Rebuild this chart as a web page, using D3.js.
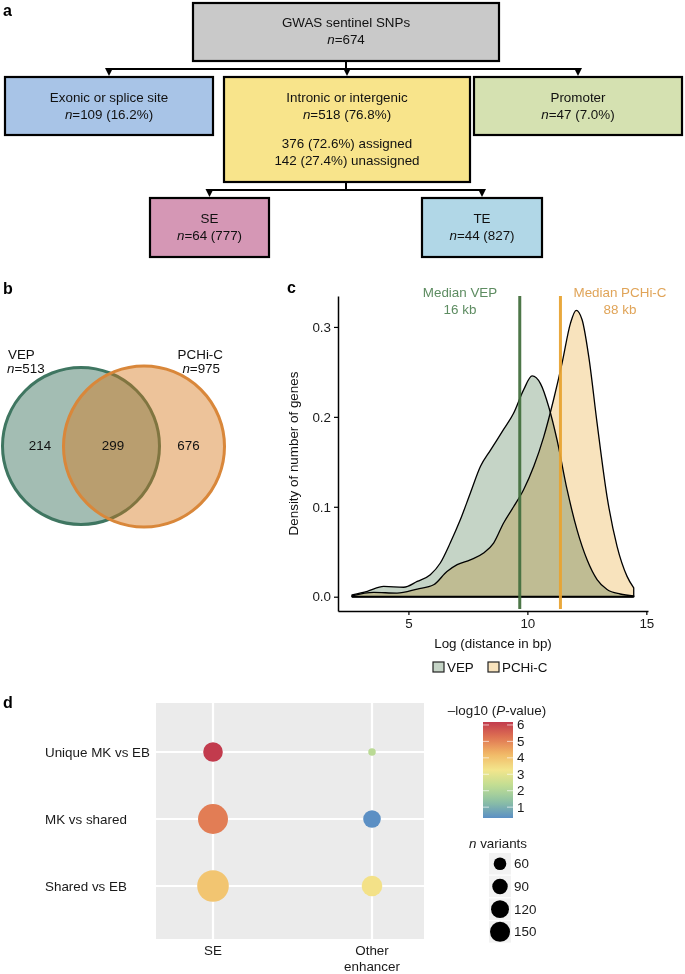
<!DOCTYPE html>
<html><head><meta charset="utf-8">
<script src="https://cdn.jsdelivr.net/npm/d3@7"></script>
<style>
body{margin:0;background:#fff;}
svg{display:block;font-family:"Liberation Sans",Arial,Helvetica,sans-serif;}
</style></head><body>
<svg id="fig" width="685" height="974"></svg>
<script>
// ================= DATA =================
// panel a : flow chart
const topLabel = "GWAS sentinel SNPs";
const topN = 674;
const level1Labels = ["Exonic or splice site", "Intronic or intergenic", "Promoter"];
const level1N = [109, 518, 47];
const level1Pct = ["16.2%", "76.8%", "7.0%"];
const assignedLines = ["376 (72.6%) assigned", "142 (27.4%) unassigned"];
const level2Labels = ["SE", "TE"];
const level2N = [64, 44];
const level2Genes = [777, 827];

// panel b : Venn
const vennSets = ["VEP", "PCHi-C"];
const vennTotals = [513, 975];
const vennRegions = [214, 299, 676];

// panel c : density of log distance
const vepX = [2.63, 3.27, 3.96, 4.8, 5.37, 5.92, 6.34, 6.76, 7.18, 7.6, 8.03, 8.45, 9.0, 9.42, 9.84, 10.2, 10.55, 10.9, 11.25, 11.67, 12.09, 12.51, 12.93, 13.35, 13.9, 14.47];
const vepY = [0.002, 0.006, 0.0115, 0.0105, 0.017, 0.0245, 0.0375, 0.06, 0.0855, 0.115, 0.145, 0.163, 0.186, 0.204, 0.23, 0.2455, 0.237, 0.211, 0.174, 0.119, 0.074, 0.041, 0.019, 0.008, 0.003, 0.001];
const pchicX = [2.63, 3.54, 4.52, 5.37, 6.06, 6.62, 7.05, 7.6, 8.16, 8.58, 9.0, 9.42, 9.84, 10.27, 10.69, 11.1, 11.46, 11.81, 12.05, 12.3, 12.58, 12.93, 13.35, 13.77, 14.19, 14.47];
const pchicY = [0.001, 0.0048, 0.004, 0.0085, 0.0133, 0.028, 0.0356, 0.041, 0.0485, 0.0596, 0.082, 0.100, 0.119, 0.145, 0.178, 0.219, 0.26, 0.304, 0.3185, 0.308, 0.267, 0.193, 0.111, 0.056, 0.0226, 0.0097];
const medianLabels = ["Median VEP", "Median PCHi-C"];
const medianKb = ["16 kb", "88 kb"];
const medianLog = [9.68, 11.39];
const xTicksC = [5, 10, 15];
const yTicksC = [0, 0.1, 0.2, 0.3];

// panel d : enrichment dot plot
const comparisons = ["Unique MK vs EB", "MK vs shared", "Shared vs EB"];
const enhancerTypes = ["SE", "Other enhancer"];
const nVariantsSE = [144, 337, 374];
const nVariantsOther = [21, 116, 159];
const logPSE = [6.18, 5.1, 3.95];
const logPOther = [2.2, 0.34, 3.35];
const colorTicks = [1, 2, 3, 4, 5, 6];
const sizeBreaks = [60, 90, 120, 150];
const paletteStops = ["#5b8fc4", "#8cc0a5", "#bfdd93", "#f3e58c", "#f1b866", "#e07653", "#c23b4d"];

// ================= DRAW =================
const svg = d3.select("#fig");
const FS = 13.4;

function richText(g, x, y, segs, anchor, opts = {}) {
  const t = g.append("text").attr("x", x).attr("y", y)
    .attr("text-anchor", anchor || "middle")
    .attr("font-size", opts.size || FS)
    .attr("fill", opts.fill || "#111");
  segs.forEach(s => {
    const sp = t.append("tspan").text(s[0]);
    if (s[1]) sp.attr("font-style", "italic");
  });
  return t;
}
function panelLabel(x, y, l) {
  svg.append("text").attr("x", x).attr("y", y).attr("font-size", 16)
    .attr("font-weight", "bold").attr("fill", "#000").text(l);
}

// ---------- panel a ----------
const ga = svg.append("g");
panelLabel(3, 16, "a");
const boxStroke = 2.2;
function box(x0, y0, x1, y1, fill) {
  ga.append("rect").attr("x", x0).attr("y", y0).attr("width", x1 - x0).attr("height", y1 - y0)
    .attr("fill", fill).attr("stroke", "#000").attr("stroke-width", boxStroke);
}
function arrowDown(x, yTop, yTip) {
  ga.append("path").attr("d", `M${x - 4},${yTop} L${x + 4},${yTop} L${x},${yTip} Z`).attr("fill", "#000");
}
function hline(x0, x1, y) { ga.append("line").attr("x1", x0).attr("x2", x1).attr("y1", y).attr("y2", y).attr("stroke", "#000").attr("stroke-width", 2); }
function vline(x, y0, y1) { ga.append("line").attr("x1", x).attr("x2", x).attr("y1", y0).attr("y2", y1).attr("stroke", "#000").attr("stroke-width", 2); }

// top box
box(193, 3, 499, 61, "#c9c9c9");
richText(ga, 346, 27, [[topLabel]]);
richText(ga, 346, 44, [["n", true], ["=" + topN]]);

// level 1
const l1Box = [[5, 213], [224, 470], [474, 682]];
const l1Fill = ["#a8c4e7", "#f8e48b", "#d5e1b1"];
const l1Bottom = [135, 182, 135];
vline(346, 61, 69);
hline(109, 578, 69);
l1Box.forEach((b, i) => {
  const cx = (b[0] + b[1]) / 2;
  arrowDown(cx, 68, 76);
  box(b[0], 77, b[1], l1Bottom[i], l1Fill[i]);
  richText(ga, cx, 102, [[level1Labels[i]]]);
  richText(ga, cx, 119, [["n", true], ["=" + level1N[i] + " (" + level1Pct[i] + ")"]]);
});
richText(ga, 347, 148, [[assignedLines[0]]]);
richText(ga, 347, 165, [[assignedLines[1]]]);

// level 2
const l2Box = [[150, 269], [422, 542]];
const l2Fill = ["#d597b5", "#b1d7e7"];
vline(346, 182, 190);
hline(209.5, 482, 190);
l2Box.forEach((b, i) => {
  const cx = (b[0] + b[1]) / 2;
  arrowDown(cx, 189, 197);
  box(b[0], 198, b[1], 257, l2Fill[i]);
  richText(ga, cx, 223, [[level2Labels[i]]]);
  richText(ga, cx, 240, [["n", true], ["=" + level2N[i] + " (" + level2Genes[i] + ")"]]);
});

// ---------- panel b ----------
const gb = svg.append("g");
panelLabel(3, 294, "b");
const vennCircles = [
  {cx: 81, cy: 446, r: 78.5, fill: "#a3bdb3", op: 1, stroke: "#3f7661"},
  {cx: 144, cy: 446.5, r: 80.5, fill: "rgb(214,117,23)", op: 0.435, stroke: "#d9873a"}
];
vennCircles.forEach(c => {
  gb.append("circle").attr("cx", c.cx).attr("cy", c.cy).attr("r", c.r)
    .attr("fill", c.fill).attr("fill-opacity", c.op)
    .attr("stroke", c.stroke).attr("stroke-width", 3);
});
richText(gb, 8, 359, [[vennSets[0]]], "start");
richText(gb, 7, 372.5, [["n", true], ["=" + vennTotals[0]]], "start");
richText(gb, 223, 359, [[vennSets[1]]], "end");
richText(gb, 220, 372.5, [["n", true], ["=" + vennTotals[1]]], "end");
const regionX = [40, 113, 188.5];
vennRegions.forEach((v, i) => richText(gb, regionX[i], 450, [[String(v)]]));

// ---------- panel c ----------
const gc = svg.append("g");
panelLabel(287, 293, "c");
const xc = d3.scaleLinear().domain([2.04, 15.07]).range([338, 648]);
const yc = d3.scaleLinear().domain([-0.0159, 0.3344]).range([611, 296]);
const area = d3.area().x(d => xc(d[0])).y0(yc(0)).y1(d => yc(d[1])).curve(d3.curveMonotoneX);
const vepData = vepX.map((x, i) => [x, vepY[i]]);
const pchicData = pchicX.map((x, i) => [x, pchicY[i]]);
const vepFill = "#c5d4c6", pchicFill = "#f8e3bd";
gc.append("path").attr("d", area(vepData)).attr("fill", vepFill)
  .attr("stroke", "#000").attr("stroke-width", 1.3).attr("stroke-linejoin", "round");
gc.append("path").attr("d", area(pchicData)).attr("fill", pchicFill)
  .style("mix-blend-mode", "multiply")
  .attr("stroke", "#000").attr("stroke-width", 1.3).attr("stroke-linejoin", "round");
gc.append("line").attr("x1", xc(2.63)).attr("x2", xc(14.47)).attr("y1", yc(0)).attr("y2", yc(0))
  .attr("stroke", "#000").attr("stroke-width", 2);

const medColors = ["#44703f", "#e8a433"];
const medTextColors = ["#5d8c61", "#e0a458"];
const medTextX = [460, 620];
medianLog.forEach((m, i) => {
  gc.append("line").attr("x1", xc(m)).attr("x2", xc(m)).attr("y1", 296).attr("y2", 609)
    .attr("stroke", medColors[i]).attr("stroke-width", 3).attr("opacity", 0.95);
  richText(gc, medTextX[i], 297, [[medianLabels[i]]], "middle", {fill: medTextColors[i]});
  richText(gc, medTextX[i], 314, [[medianKb[i]]], "middle", {fill: medTextColors[i]});
});

const xAxisC = gc.append("g").attr("transform", "translate(0,611)")
  .call(d3.axisBottom(xc).tickValues(xTicksC).tickSize(4).tickSizeOuter(0).tickPadding(3));
const yAxisC = gc.append("g").attr("transform", "translate(338,0)")
  .call(d3.axisLeft(yc).tickValues(yTicksC).tickFormat(d3.format(".1f")).tickSize(4).tickSizeOuter(0).tickPadding(3));
[xAxisC, yAxisC].forEach(a => {
  a.select(".domain").attr("stroke", "#000").attr("stroke-width", 1.5);
  a.selectAll(".tick line").attr("stroke", "#000").attr("stroke-width", 1.2);
  a.selectAll(".tick text").attr("font-size", FS).attr("fill", "#1a1a1a")
    .attr("font-family", '"Liberation Sans",Arial,sans-serif');
});
richText(gc, 493, 648, [["Log (distance in bp)"]]);
gc.append("text").attr("transform", "translate(298,453.5) rotate(-90)")
  .attr("text-anchor", "middle").attr("font-size", FS).attr("fill", "#111")
  .text("Density of number of genes");
const legC = [{x: 433, fill: vepFill, label: vennSets[0]}, {x: 488, fill: pchicFill, label: vennSets[1]}];
legC.forEach(l => {
  gc.append("rect").attr("x", l.x).attr("y", 662).attr("width", 11).attr("height", 10)
    .attr("fill", l.fill).attr("stroke", "#222").attr("stroke-width", 1.2);
  richText(gc, l.x + 14, 671.5, [[l.label]], "start");
});

// ---------- panel d ----------
const gd = svg.append("g");
panelLabel(3, 708, "d");
const px0 = 156, px1 = 424, py0 = 703, py1 = 939;
gd.append("rect").attr("x", px0).attr("y", py0).attr("width", px1 - px0).attr("height", py1 - py0).attr("fill", "#ebebeb");
const xd = d3.scalePoint().domain(enhancerTypes).range([213, 372]);
const yd = d3.scalePoint().domain(comparisons).range([752, 886]);
const allP = logPOther.concat(logPSE);
const pExt = d3.extent(allP);
const colorScale = d3.scaleLinear()
  .domain(d3.range(paletteStops.length).map(i => pExt[0] + i * (pExt[1] - pExt[0]) / (paletteStops.length - 1)))
  .range(paletteStops).interpolate(d3.interpolateRgb);
const sizeScale = d3.scaleSqrt().domain([0, 150]).range([0, 10]);
enhancerTypes.forEach(e => gd.append("line").attr("x1", xd(e)).attr("x2", xd(e)).attr("y1", py0).attr("y2", py1).attr("stroke", "#fff").attr("stroke-width", 2.2));
comparisons.forEach(c => gd.append("line").attr("x1", px0).attr("x2", px1).attr("y1", yd(c)).attr("y2", yd(c)).attr("stroke", "#fff").attr("stroke-width", 2.2));
const dots = [];
comparisons.forEach((c, i) => {
  dots.push({c, e: enhancerTypes[0], n: nVariantsSE[i], p: logPSE[i]});
  dots.push({c, e: enhancerTypes[1], n: nVariantsOther[i], p: logPOther[i]});
});
gd.selectAll("circle.dot").data(dots).enter().append("circle").attr("class", "dot")
  .attr("cx", d => xd(d.e)).attr("cy", d => yd(d.c)).attr("r", d => sizeScale(d.n))
  .attr("fill", d => colorScale(d.p));
comparisons.forEach(c => richText(gd, 45, yd(c) + 4.5, [[c]], "start", {fill: "#1a1a1a"}));
richText(gd, xd(enhancerTypes[0]), 955, [["SE"]], "middle", {fill: "#1a1a1a"});
richText(gd, xd(enhancerTypes[1]), 955, [["Other"]], "middle", {fill: "#1a1a1a"});
richText(gd, xd(enhancerTypes[1]), 970.5, [["enhancer"]], "middle", {fill: "#1a1a1a"});

// colour bar legend
const cb = d3.scaleLinear().domain(pExt).range([818, 722]);
const defs = svg.append("defs");
const grad = defs.append("linearGradient").attr("id", "cbar").attr("x1", 0).attr("y1", 1).attr("x2", 0).attr("y2", 0);
d3.range(0, 1.0001, 0.05).forEach(t => {
  grad.append("stop").attr("offset", t).attr("stop-color", colorScale(pExt[0] + t * (pExt[1] - pExt[0])));
});
richText(gd, 497, 715, [["\u2013log10 ("], ["P", true], ["-value)"]], "middle", {fill: "#1a1a1a"});
gd.append("rect").attr("x", 483).attr("y", 722).attr("width", 30).attr("height", 96).attr("fill", "url(#cbar)");
colorTicks.forEach(v => {
  gd.append("line").attr("x1", 483).attr("x2", 489).attr("y1", cb(v)).attr("y2", cb(v)).attr("stroke", "#fff").attr("stroke-width", 0.8).attr("opacity", 0.8);
  gd.append("line").attr("x1", 507).attr("x2", 513).attr("y1", cb(v)).attr("y2", cb(v)).attr("stroke", "#fff").attr("stroke-width", 0.8).attr("opacity", 0.8);
  richText(gd, 517, cb(v) + 4.5, [[String(v)]], "start", {fill: "#1a1a1a"});
});

// size legend
richText(gd, 498, 848, [["n", true], [" variants"]], "middle", {fill: "#1a1a1a"});
sizeBreaks.forEach((s, i) => {
  const ky = 853 + i * 22.7;
  gd.append("rect").attr("x", 489).attr("y", ky).attr("width", 22).attr("height", 21.5).attr("fill", "#f2f2f2");
  gd.append("circle").attr("cx", 500).attr("cy", ky + 10.75).attr("r", sizeScale(s)).attr("fill", "#000");
  richText(gd, 514, ky + 15.3, [[String(s)]], "start", {fill: "#1a1a1a"});
});
</script>
</body></html>
